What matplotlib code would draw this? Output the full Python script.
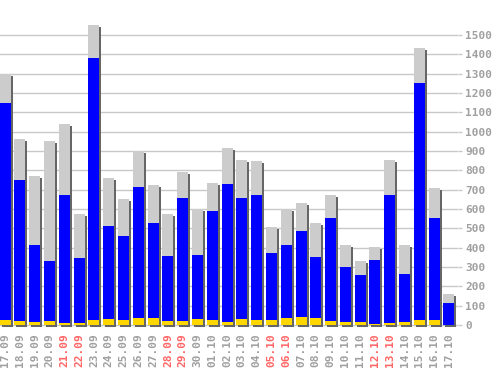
import matplotlib.pyplot as plt

# === Data ===
dates = ['17.09', '18.09', '19.09', '20.09', '21.09', '22.09', '23.09', '24.09',
         '25.09', '26.09', '27.09', '28.09', '29.09', '30.09', '01.10', '02.10',
         '03.10', '04.10', '05.10', '06.10', '07.10', '08.10', '09.10', '10.10',
         '11.10', '12.10', '13.10', '14.10', '15.10', '16.10', '17.10']
weekend = ['21.09', '22.09', '28.09', '29.09', '05.10', '06.10', '12.10', '13.10']

yellow = [26, 21, 16, 21, 10, 10, 26, 31, 26, 36, 36, 21, 21, 31, 26, 16,
          31, 26, 26, 36, 41, 36, 21, 16, 16, 3, 10, 16, 26, 26, 0]
blue = [1122, 729, 398, 310, 662, 337, 1355, 481, 434, 678, 492, 336, 636, 331, 564, 713,
        626, 646, 346, 378, 445, 316, 532, 284, 243, 333, 662, 248, 1226, 527, 114]
grey = [149, 212, 357, 620, 368, 227, 171, 248, 191, 184, 196, 217, 134, 236, 144, 187,
        196, 176, 135, 184, 145, 176, 119, 114, 72, 66, 181, 150, 181, 156, 46]

# === Layout in pixels ===
W, H = 498, 370
px_per_bar = 14.79
first_center = 5.2
axes_left, axes_right = 0, 458
axes_bottom, axes_top = 328, 20
y_zero = 325
px_per_unit = 290 / 1500

fig = plt.figure(figsize=(W / 100, H / 100), dpi=100)
ax = fig.add_axes([axes_left / W, 1 - axes_bottom / H,
                   (axes_right - axes_left) / W, (axes_bottom - axes_top) / H])

x = list(range(len(dates)))
ax.set_xlim((axes_left - first_center) / px_per_bar, (axes_right - first_center) / px_per_bar)
ax.set_ylim(-(axes_bottom - y_zero) / px_per_unit, (y_zero - axes_top) / px_per_unit)

width = 11 / px_per_bar
dx = 2 / px_per_bar
dy = 2 / px_per_unit

totals = [a + b + c for a, b, c in zip(yellow, blue, grey)]
base2 = [a + b for a, b in zip(yellow, blue)]

# shadow
ax.bar([i + dx for i in x], totals, bottom=-dy, width=width, color='#666666', zorder=2)
# stacked bars
ax.bar(x, yellow, width=width, color='#ffd700', zorder=3)
ax.bar(x, blue, bottom=yellow, width=width, color='#0000ff', zorder=3)
ax.bar(x, grey, bottom=base2, width=width, color='#cccccc', zorder=3)

# === Axes styling ===
for s in ax.spines.values():
    s.set_visible(False)
ax.set_yticks(range(0, 1600, 100))
ax.yaxis.tick_right()
ax.tick_params(axis='y', length=3, width=1, color='#c8c8c8', pad=2,
               labelsize=8, labelcolor='#a0a0a0')
ax.grid(axis='y', color='#c8c8c8', linewidth=1, zorder=0)
ax.set_axisbelow(True)

ax.set_xticks(x)
ax.set_xticklabels(dates, rotation=90)
ax.tick_params(axis='x', length=0, pad=4, labelsize=8)
for lbl in ax.get_xticklabels():
    lbl.set_color('#ff6666' if lbl.get_text() in weekend else '#a0a0a0')
for lbl in ax.get_xticklabels() + ax.get_yticklabels():
    lbl.set_fontfamily('DejaVu Sans Mono')
    lbl.set_fontweight('bold')

plt.savefig('out.png', dpi=100)
